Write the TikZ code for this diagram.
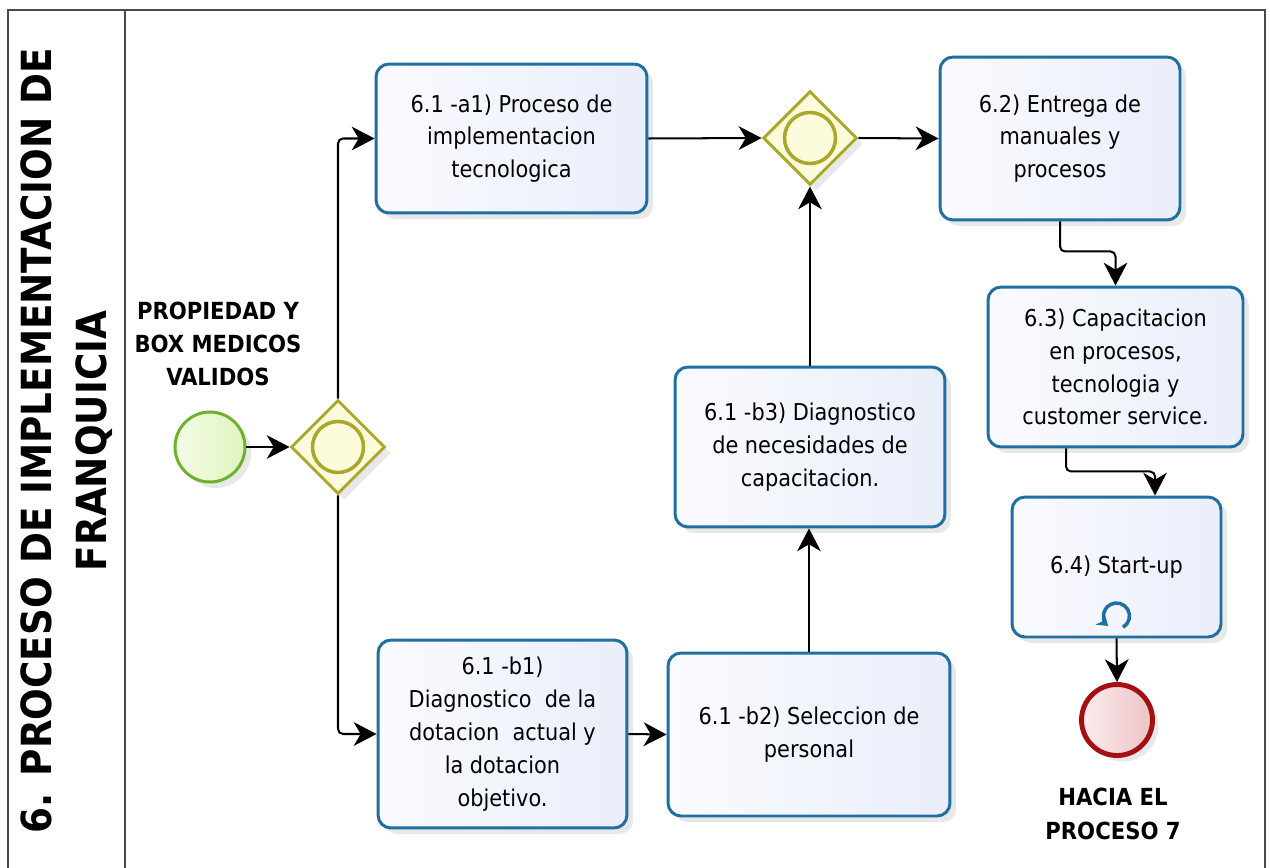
\documentclass[tikz,border=0pt]{standalone}
\usepackage{fontspec}
\setmainfont{DejaVu Sans Condensed}
\usetikzlibrary{shapes.geometric,arrows.meta,shadows,calc}

\definecolor{taskline}{HTML}{1F6FA3}
\definecolor{taskfillA}{HTML}{FAFBFF}
\definecolor{taskfillB}{HTML}{EAEEFA}
\definecolor{gwline}{HTML}{A9A82A}
\definecolor{gwfill}{HTML}{FCFCDC}
\definecolor{startline}{HTML}{6DB22C}
\definecolor{startfillA}{HTML}{F4FCE6}
\definecolor{startfillB}{HTML}{E0F4BE}
\definecolor{endline}{HTML}{A30F12}
\definecolor{endfillA}{HTML}{FBEDEE}
\definecolor{endfillB}{HTML}{EDC3C6}
\definecolor{poolline}{HTML}{4A4A4A}

\tikzset{
  softshadow/.style={drop shadow={opacity=0.18, shadow xshift=0.12cm, shadow yshift=-0.12cm}},
  task/.style={rectangle, rounded corners=0.26cm, draw=taskline, line width=1.7pt,
    left color=taskfillA, right color=taskfillB, softshadow, align=center,
    inner sep=0pt, text=black, font=\fontsize{13.2}{18.7}\selectfont},
  gateway/.style={diamond, draw=gwline, fill=gwfill, line width=1.7pt,
    minimum size=1.88cm, inner sep=0pt, softshadow},
  startev/.style={circle, draw=startline, left color=startfillA, right color=startfillB,
    line width=1.7pt, minimum size=1.4cm, inner sep=0pt, softshadow},
  endev/.style={circle, draw=endline, left color=endfillA, right color=endfillB,
    line width=2.8pt, minimum size=1.42cm, inner sep=0pt, softshadow},
  lbl/.style={align=center, inner sep=0pt, font=\bfseries\fontsize{13.4}{19}\selectfont},
  ttl/.style={rotate=90, inner sep=0pt, font=\bfseries\fontsize{23.6}{30}\selectfont},
  flow/.style={draw=black, line width=1.15pt, rounded corners=0.1cm,
    -{Stealth[length=13pt,width=13.5pt,inset=4pt]}},
}

\begin{document}
\begin{tikzpicture}[x=0.02cm,y=-0.02cm]
\useasboundingbox (0,0) rectangle (1270,868);

% pool and lane header
\draw[poolline, line width=1.2pt] (8,868) -- (8,10) -- (1265,10) -- (1265,868);
\draw[poolline, line width=1.2pt] (125,10) -- (125,868);
\node[ttl] (title1) at (36,441) {6. PROCESO DE IMPLEMENTACION DE};
\node[ttl] (title2) at (94,441) {FRANQUICIA};

% events and gateways
\node[startev] (start) at (210,447) {};
\node[lbl] (startlbl) at (218,344) {PROPIEDAD Y\\BOX MEDICOS\\VALIDOS};
\node[gateway] (g1) at (338,447) {};
\draw[gwline, line width=2pt] (g1.center) circle (0.51cm);
\node[gateway] (g2) at (810,138) {};
\draw[gwline, line width=2pt] (g2.center) circle (0.51cm);

% tasks
\node[task, minimum width=5.42cm, minimum height=2.98cm] (a1) at (511.5,138.5)
  {6.1 -a1) Proceso de\\implementacion\\tecnologica};
\node[task, minimum width=4.8cm, minimum height=3.26cm] (t62) at (1060,138.5)
  {6.2) Entrega de\\manuales y\\procesos};
\node[task, minimum width=5.1cm, minimum height=3.2cm] (t63) at (1115.5,367)
  {6.3) Capacitacion\\en procesos,\\tecnologia y\\customer service.};
\node[task, minimum width=4.18cm, minimum height=2.8cm] (t64) at (1116.5,567)
  {6.4) Start-up};
\node[task, minimum width=4.98cm, minimum height=3.76cm] (b1) at (502.5,734)
  {6.1 -b1)\\Diagnostico\ \ de la\\dotacion\ \ actual y\\la dotacion\\objetivo.};
\node[task, minimum width=5.64cm, minimum height=3.26cm] (b2) at (809,734.5)
  {6.1 -b2) Seleccion de\\personal};
\node[task, minimum width=5.4cm, minimum height=3.2cm] (b3) at (810,447)
  {6.1 -b3) Diagnostico\\de necesidades de\\capacitacion.};

% loop marker of the start-up task
\coordinate (loopc) at ($(t64.center)+(0,49)$);
\draw[taskline, line width=2pt, -{Stealth[length=6pt,width=8pt]}]
  ([shift={(-60:0.26cm)}]loopc) arc[start angle=-60, end angle=230, radius=0.26cm];

\node[endev] (endevt) at (1117,720) {};
\node[lbl] (endlbl) at (1113,814) {HACIA EL\\PROCESO 7};

% sequence flows
\draw[flow] (start) -- (g1.west);
\draw[flow] (g1.north) |- (a1.west);
\draw[flow] (g1.south) |- (b1.west);
\draw[flow] (a1.east) -- (g2.west);
\draw[flow] (g2.east) -- (t62.west);
\draw[flow] (b1.east) -- (b2.west);
\draw[flow] (b2.north) -- (b2.north |- b3.south);
\draw[flow] (b3.north) -- (g2.south);
\draw[flow] (t62.south) -- ++(0,30) -| (t63.north);
\draw[flow] ([xshift=-0.99cm]t63.south) -- ++(0,23) -| ([xshift=0.77cm]t64.north);
\draw[flow] (t64.south) -- (endevt.north);
\end{tikzpicture}
\end{document}
